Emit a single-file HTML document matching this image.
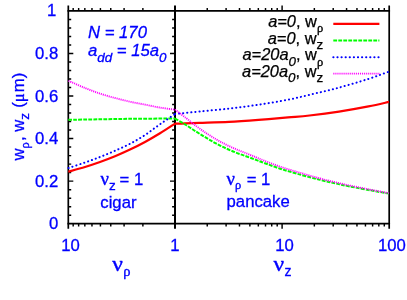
<!DOCTYPE html>
<html><head><meta charset="utf-8"><title>plot</title>
<style>
html,body{margin:0;padding:0;background:#fff;}
svg{display:block;will-change:transform;}
.nu{font-family:"Liberation Serif","DejaVu Serif",serif;stroke:#0000ff;stroke-width:0.4px;}
.rho,.mu{font-family:"Liberation Serif","DejaVu Serif",serif;stroke:#0000ff;stroke-width:0.35px;}
.rhok{font-family:"Liberation Serif","DejaVu Serif",serif;stroke:#000;stroke-width:0.35px;}
</style></head><body>
<svg width="407" height="300" viewBox="0 0 407 300">
<rect width="407" height="300" fill="#fff"/>
<g stroke="#000" stroke-width="1.7" fill="none" stroke-linecap="butt">
<path d="M67.45 10.9H390.05M67.45 223.7H390.05"/>
<path d="M68.3 5.6V228.8M389.2 5.6V228.8"/>
<path d="M175.0 5.6V228.8" stroke-width="2"/>
</g>
<path d="M68.3 215.19h2.9M175.0 215.19h-2.9M68.3 206.68h2.9M175.0 206.68h-2.9M68.3 198.16h2.9M175.0 198.16h-2.9M68.3 189.65h2.9M175.0 189.65h-2.9M68.3 181.14h5.0M175.0 181.14h-5.0M68.3 172.63h2.9M175.0 172.63h-2.9M68.3 164.12h2.9M175.0 164.12h-2.9M68.3 155.60h2.9M175.0 155.60h-2.9M68.3 147.09h2.9M175.0 147.09h-2.9M68.3 138.58h5.0M175.0 138.58h-5.0M68.3 130.07h2.9M175.0 130.07h-2.9M68.3 121.56h2.9M175.0 121.56h-2.9M68.3 113.04h2.9M175.0 113.04h-2.9M68.3 104.53h2.9M175.0 104.53h-2.9M68.3 96.02h5.0M175.0 96.02h-5.0M68.3 87.51h2.9M175.0 87.51h-2.9M68.3 79.00h2.9M175.0 79.00h-2.9M68.3 70.48h2.9M175.0 70.48h-2.9M68.3 61.97h2.9M175.0 61.97h-2.9M68.3 53.46h5.0M175.0 53.46h-5.0M68.3 44.95h2.9M175.0 44.95h-2.9M68.3 36.44h2.9M175.0 36.44h-2.9M68.3 27.92h2.9M175.0 27.92h-2.9M68.3 19.41h2.9M175.0 19.41h-2.9M142.88 10.9v-2.9M142.88 223.7v2.9M124.09 10.9v-2.9M124.09 223.7v2.9M110.76 10.9v-2.9M110.76 223.7v2.9M100.42 10.9v-2.9M100.42 223.7v2.9M91.97 10.9v-2.9M91.97 223.7v2.9M84.83 10.9v-2.9M84.83 223.7v2.9M78.64 10.9v-2.9M78.64 223.7v2.9M73.18 10.9v-2.9M73.18 223.7v2.9M207.24 10.9v-2.9M207.24 223.7v2.9M226.10 10.9v-2.9M226.10 223.7v2.9M239.48 10.9v-2.9M239.48 223.7v2.9M249.86 10.9v-2.9M249.86 223.7v2.9M258.34 10.9v-2.9M258.34 223.7v2.9M265.51 10.9v-2.9M265.51 223.7v2.9M271.72 10.9v-2.9M271.72 223.7v2.9M277.20 10.9v-2.9M277.20 223.7v2.9M314.34 10.9v-2.9M314.34 223.7v2.9M333.20 10.9v-2.9M333.20 223.7v2.9M346.58 10.9v-2.9M346.58 223.7v2.9M356.96 10.9v-2.9M356.96 223.7v2.9M365.44 10.9v-2.9M365.44 223.7v2.9M372.61 10.9v-2.9M372.61 223.7v2.9M378.82 10.9v-2.9M378.82 223.7v2.9M384.30 10.9v-2.9M384.30 223.7v2.9M282.10 10.9v-5.3M282.10 223.7v5.1" stroke="#000" stroke-width="1.45" fill="none"/>
<g fill="none" stroke-width="2">
<path d="M68.30 171.70C71.08 170.92 79.72 168.62 85.00 167.00C90.28 165.38 95.00 163.78 100.00 162.00C105.00 160.22 110.00 158.37 115.00 156.30C120.00 154.23 125.00 151.98 130.00 149.60C135.00 147.22 140.00 144.72 145.00 142.00C150.00 139.28 155.00 136.37 160.00 133.30C165.00 130.23 172.50 125.22 175.00 123.60" stroke="#ff0000" stroke-width="2.2"/>
<path d="M175.00 123.60C175.83 123.62 178.33 123.73 180.00 123.70C181.67 123.67 181.75 123.53 185.00 123.40C188.25 123.27 192.17 123.15 199.50 122.90C206.83 122.65 219.17 122.40 229.00 121.90C238.83 121.40 248.67 120.65 258.50 119.90C268.33 119.15 279.50 118.13 288.00 117.40C296.50 116.67 301.00 116.47 309.50 115.50C318.00 114.53 329.17 113.12 339.00 111.60C348.83 110.08 360.17 108.02 368.50 106.40C376.83 104.78 385.58 102.65 389.00 101.90" stroke="#ff0000" stroke-width="2.2"/>
<path d="M68.30 119.80C73.58 119.72 89.72 119.47 100.00 119.30C110.28 119.13 120.00 118.92 130.00 118.80C140.00 118.68 152.50 118.63 160.00 118.60C167.50 118.57 172.50 118.60 175.00 118.60" stroke="#00ff00" stroke-dasharray="3.8 1.2"/>
<path d="M175.00 118.60C176.83 119.67 182.50 122.85 186.00 125.00C189.50 127.15 192.67 129.38 196.00 131.50C199.33 133.62 202.67 135.72 206.00 137.70C209.33 139.68 212.67 141.62 216.00 143.40C219.33 145.18 222.67 146.87 226.00 148.40C229.33 149.93 232.67 151.30 236.00 152.60C239.33 153.90 242.67 154.98 246.00 156.20C249.33 157.42 253.00 158.78 256.00 159.90C259.00 161.02 259.67 161.33 264.00 162.90C268.33 164.47 275.67 167.27 282.00 169.30C288.33 171.33 295.67 173.33 302.00 175.10C308.33 176.87 314.50 178.53 320.00 179.90C325.50 181.27 330.00 182.20 335.00 183.30C340.00 184.40 343.83 185.28 350.00 186.50C356.17 187.72 365.50 189.42 372.00 190.60C378.50 191.78 386.17 193.10 389.00 193.60" stroke="#00ff00" stroke-dasharray="3.8 1.2"/>
<path d="M68.50 168.00C71.25 167.08 79.75 164.33 85.00 162.50C90.25 160.67 95.00 158.96 100.00 157.00C105.00 155.04 110.00 152.96 115.00 150.75C120.00 148.54 125.00 146.38 130.00 143.75C135.00 141.12 140.00 138.25 145.00 135.00C150.00 131.75 155.00 127.75 160.00 124.25C165.00 120.75 172.50 115.71 175.00 114.00" stroke="#0000ff" stroke-dasharray="0.2 3.9" stroke-linecap="round"/>
<path d="M175.00 114.00C176.62 113.83 180.62 113.42 184.70 113.00C188.78 112.58 192.12 112.23 199.50 111.50C206.88 110.77 219.17 109.73 229.00 108.60C238.83 107.47 248.67 106.18 258.50 104.70C268.33 103.22 279.50 101.35 288.00 99.70C296.50 98.05 301.00 96.82 309.50 94.80C318.00 92.78 329.17 90.25 339.00 87.60C348.83 84.95 360.17 81.57 368.50 78.90C376.83 76.23 385.58 72.82 389.00 71.60" stroke="#0000ff" stroke-dasharray="0.2 3.9" stroke-linecap="round"/>
<path d="M68.50 80.80C71.25 82.00 79.75 85.87 85.00 88.00C90.25 90.13 95.00 91.93 100.00 93.60C105.00 95.27 110.00 96.65 115.00 98.00C120.00 99.35 125.00 100.60 130.00 101.70C135.00 102.80 140.00 103.62 145.00 104.60C150.00 105.58 155.00 106.77 160.00 107.60C165.00 108.43 172.50 109.27 175.00 109.60" stroke="#ff00ff" stroke-width="1.9" stroke-dasharray="1.1 0.95"/>
<path d="M175.00 109.60C176.83 111.00 182.50 115.28 186.00 118.00C189.50 120.72 192.67 123.40 196.00 125.90C199.33 128.40 202.67 130.78 206.00 133.00C209.33 135.22 212.67 137.27 216.00 139.20C219.33 141.13 222.67 142.93 226.00 144.60C229.33 146.27 232.67 147.77 236.00 149.20C239.33 150.63 242.67 151.85 246.00 153.20C249.33 154.55 253.00 156.07 256.00 157.30C259.00 158.53 259.67 158.93 264.00 160.60C268.33 162.27 275.67 165.17 282.00 167.30C288.33 169.43 295.67 171.53 302.00 173.40C308.33 175.27 314.50 177.03 320.00 178.50C325.50 179.97 330.00 181.02 335.00 182.20C340.00 183.38 343.83 184.30 350.00 185.60C356.17 186.90 365.50 188.73 372.00 190.00C378.50 191.27 386.17 192.67 389.00 193.20" stroke="#ff00ff" stroke-width="1.9" stroke-dasharray="1.1 0.95"/>
<path d="M333.3 23.8H379.4" stroke="#ff0000" stroke-width="2.2"/>
<path d="M333.3 40.6H379.4" stroke="#00ff00" stroke-dasharray="3.8 1.2"/>
<path d="M333.3 57.2H378.6" stroke="#0000ff" stroke-dasharray="0.2 3.9" stroke-linecap="round"/>
<path d="M333.3 73.6H379.4" stroke="#ff00ff" stroke-width="1.9" stroke-dasharray="1.1 0.95"/>
</g>
<g font-family="'Liberation Sans', sans-serif" font-size="16.7px" fill="#0000ff" stroke="#0000ff" stroke-width="0.3">
<text x="58.3" y="229.2" text-anchor="end">0</text>
<text x="58.3" y="186.6" text-anchor="end">0.2</text>
<text x="58.3" y="144.1" text-anchor="end">0.4</text>
<text x="58.3" y="101.5" text-anchor="end">0.6</text>
<text x="58.3" y="59.0" text-anchor="end">0.8</text>
<text x="56.3" y="16.4" text-anchor="end">1</text>
<text x="70.6" y="250.8" text-anchor="middle">10</text>
<text x="175.0" y="250.8" text-anchor="middle">1</text>
<text x="284.6" y="250.8" text-anchor="middle">10</text>
<text x="391.9" y="250.8" text-anchor="middle">100</text>
<text x="88" y="37.5" font-style="italic">N = 170</text>
<text x="88" y="56.3" font-style="italic">a<tspan font-size="13.4px" dy="5.3">dd</tspan><tspan dy="-5.3"> = 15a</tspan><tspan font-size="13.4px" dy="5.3">0</tspan></text>
<text x="100.6" y="185"><tspan class="nu" font-size="18.6px">ν</tspan><tspan font-size="13.4px" dy="5.3">z</tspan><tspan dy="-5.3" dx="-0.8"> = 1</tspan></text>
<text x="100.3" y="208">cigar</text>
<text x="226.6" y="184.6"><tspan class="nu" font-size="18.6px">ν</tspan><tspan class="rho" font-size="12.5px" dy="4.4">ρ</tspan><tspan dy="-4.4" dx="0.8"> = 1</tspan></text>
<text x="226.6" y="207.2">pancake</text>
<text transform="translate(112.3 270.6) scale(1.1 1)"><tspan class="nu" font-size="21.4px">ν</tspan></text>
<text x="123.3" y="270.6"><tspan class="rho" font-size="14.5px" dy="5.0">ρ</tspan></text>
<text transform="translate(273.6 270.6) scale(1.1 1)"><tspan class="nu" font-size="21.4px">ν</tspan></text>
<text x="284.4" y="275.9" font-size="14px">z</text>
<text transform="translate(23.8 116.6) rotate(-90)" text-anchor="middle">w<tspan class="rho" font-size="12.5px" dy="5.3">ρ</tspan><tspan dy="-5.3" dx="1.1">, w</tspan><tspan font-size="13.4px" dy="5.3">z</tspan><tspan dy="-5.3" dx="0.6"> (</tspan><tspan class="mu">μ</tspan><tspan dx="1.1">m)</tspan></text>
</g>
<g font-family="'Liberation Sans', sans-serif" font-size="16.4px" fill="#000" stroke="#000" stroke-width="0.25" text-anchor="end">
<text x="323.2" y="27.1"><tspan font-style="italic">a=0</tspan>, w<tspan class="rhok" font-size="12.5px" dy="5.3">ρ</tspan></text>
<text x="323.2" y="43.7"><tspan font-style="italic">a=0</tspan>, w<tspan font-size="13.4px" dy="5.3">z</tspan></text>
<text x="323.2" y="60.2"><tspan font-style="italic">a=20a</tspan><tspan font-style="italic" font-size="13.4px" dy="5.3">0</tspan><tspan dy="-5.3">, w</tspan><tspan class="rhok" font-size="12.5px" dy="5.3">ρ</tspan></text>
<text x="323.2" y="76.6"><tspan font-style="italic">a=20a</tspan><tspan font-style="italic" font-size="13.4px" dy="5.3">0</tspan><tspan dy="-5.3">, w</tspan><tspan font-size="13.4px" dy="5.3">z</tspan></text>
</g>
</svg>
</body></html>
